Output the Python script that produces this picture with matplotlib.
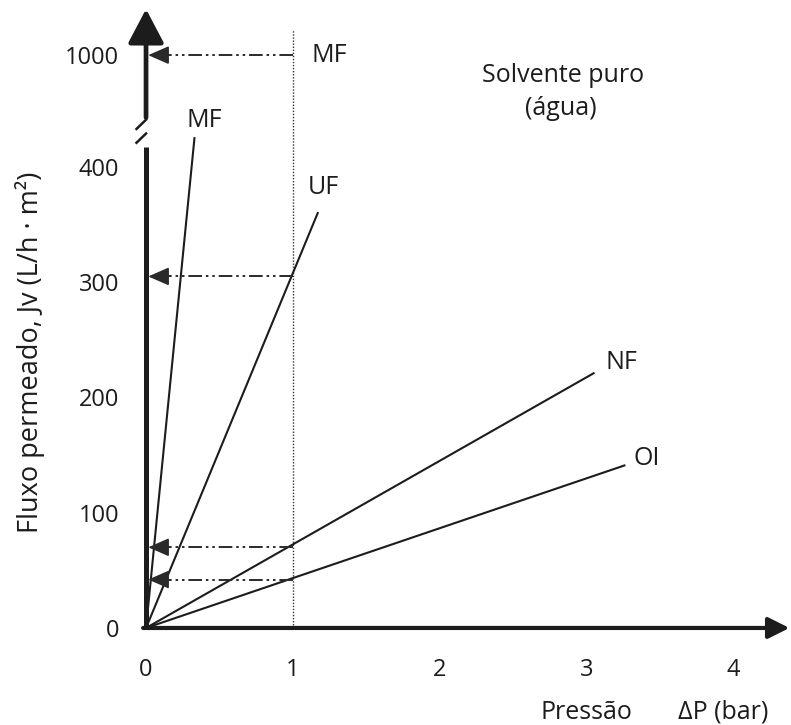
import numpy as np
import matplotlib
matplotlib.use('Agg')
import matplotlib.pyplot as plt

plt.rcParams['font.family'] = ['Open Sans', 'DejaVu Sans']

# ---------------- data ----------------
membranes = ['MF', 'UF', 'NF', 'OI']
end_pressure = [0.33, 1.17, 3.05, 3.26]      # bar, end of each line
end_flux = [425, 360, 221, 141]              # L/h.m2 at that end
ref_pressure = 1.0                           # bar
ref_flux = [1000, 305, 70, 42]               # flux read at 1 bar (MF, UF, NF, OI)
x_ticks = [0, 1, 2, 3, 4]
y_ticks = [0, 100, 200, 300, 400, 1000]

# ---------------- broken y scale ----------------
T = 445.0
K = (497.0 - T) / (1000.0 - T)

def fwd(y):
    y = np.asarray(y, dtype=float)
    return np.where(y <= T, y, T + (y - T) * K)

def inv(f):
    f = np.asarray(f, dtype=float)
    return np.where(f <= T, f, T + (f - T) / K)

INK = '#1c1c1c'
fig = plt.figure(figsize=(7.91, 7.25), dpi=100)
L, R, B, Tp = 138.7, 790.2, 639.5, 5.6
ax = fig.add_axes([L / 791, (725 - B) / 725, (R - L) / 791, (B - Tp) / 725])
ax.set_yscale('function', functions=(fwd, inv))
ax.set_xlim(-0.05, 4.39)
ax.set_ylim(-10, float(inv(540)))
for s in ax.spines.values():
    s.set_visible(False)

ax.set_xticks(x_ticks)
ax.set_xticklabels([str(v) for v in x_ticks])
ax.set_yticks(y_ticks)
ax.set_yticklabels([str(v) for v in y_ticks])
ax.tick_params(length=0, labelsize=17, colors=INK)
ax.tick_params(axis='x', pad=13)
ax.tick_params(axis='y', pad=14)

# axes lines with arrows
ax.plot([0, 0], [0, 417], color=INK, lw=3.6, solid_capstyle='butt', clip_on=False)
ax.annotate('', xy=(0, float(inv(537))), xytext=(0, 443),
            arrowprops=dict(arrowstyle='-|>,head_length=0.95,head_width=0.5',
                            color=INK, lw=3.4, shrinkA=0, shrinkB=0,
                            mutation_scale=22),
            annotation_clip=False)
ax.annotate('', xy=(4.385, 0), xytext=(-0.02, 0),
            arrowprops=dict(arrowstyle='-|>,head_length=0.8,head_width=0.4',
                            color=INK, lw=3.0, shrinkA=0, shrinkB=0,
                            mutation_scale=16),
            annotation_clip=False)
# break marks
for yc in (425, 437):
    ax.plot([-0.065, 0.0], [yc - 4, yc + 4], color=INK, lw=1.8, clip_on=False)

# vertical dotted line at 1 bar
ax.plot([ref_pressure, ref_pressure], [0, 1230], color='#333333', lw=1.0,
        linestyle=(0, (1, 1.2)), clip_on=False)

# membrane lines
for p, f in zip(end_pressure, end_flux):
    ax.plot([0, p], [0, f], color=INK, lw=1.5, clip_on=False)

# dash-dot-dot reference arrows
dd = (0, (7, 2, 1.3, 2, 1.3, 2))
for f in ref_flux:
    ax.plot([ref_pressure, 0.11], [f, f], color='#2a2a2a', lw=1.4, linestyle=dd)
    ax.annotate('', xy=(0.015, f), xytext=(0.12, f),
                arrowprops=dict(arrowstyle='-|>,head_length=0.8,head_width=0.35',
                                color='#2a2a2a', lw=1.2, shrinkA=0, shrinkB=0,
                                mutation_scale=16),
                annotation_clip=False)

# labels
fs = 18
ax.text(1.247, 1000, 'MF', fontsize=fs, color=INK, ha='center', va='center')
ax.text(0.40, 440, 'MF', fontsize=fs, color=INK, ha='center', va='center')
ax.text(1.206, 382, 'UF', fontsize=fs, color=INK, ha='center', va='center')
ax.text(3.24, 230, 'NF', fontsize=fs, color=INK, ha='center', va='center')
ax.text(3.41, 147, 'OI', fontsize=fs, color=INK, ha='center', va='center')
ax.text(2.84, 816, 'Solvente puro', fontsize=fs, color=INK, ha='center', va='center')
ax.text(2.83, 509, '(água)', fontsize=fs, color=INK, ha='center', va='center')
ax.text(3.0, -73, 'Pressão', fontsize=fs, color=INK, ha='center', va='center')
ax.text(3.93, -73, 'ΔP (bar)', fontsize=fs, color=INK, ha='center', va='center')

fig.text(30 / 791, 1 - 352 / 725, 'Fluxo permeado, Jv (L/h · m²)', fontsize=19.5,
         color=INK, rotation=90, ha='center', va='center')

fig.savefig('out.png', dpi=100, facecolor='white')
